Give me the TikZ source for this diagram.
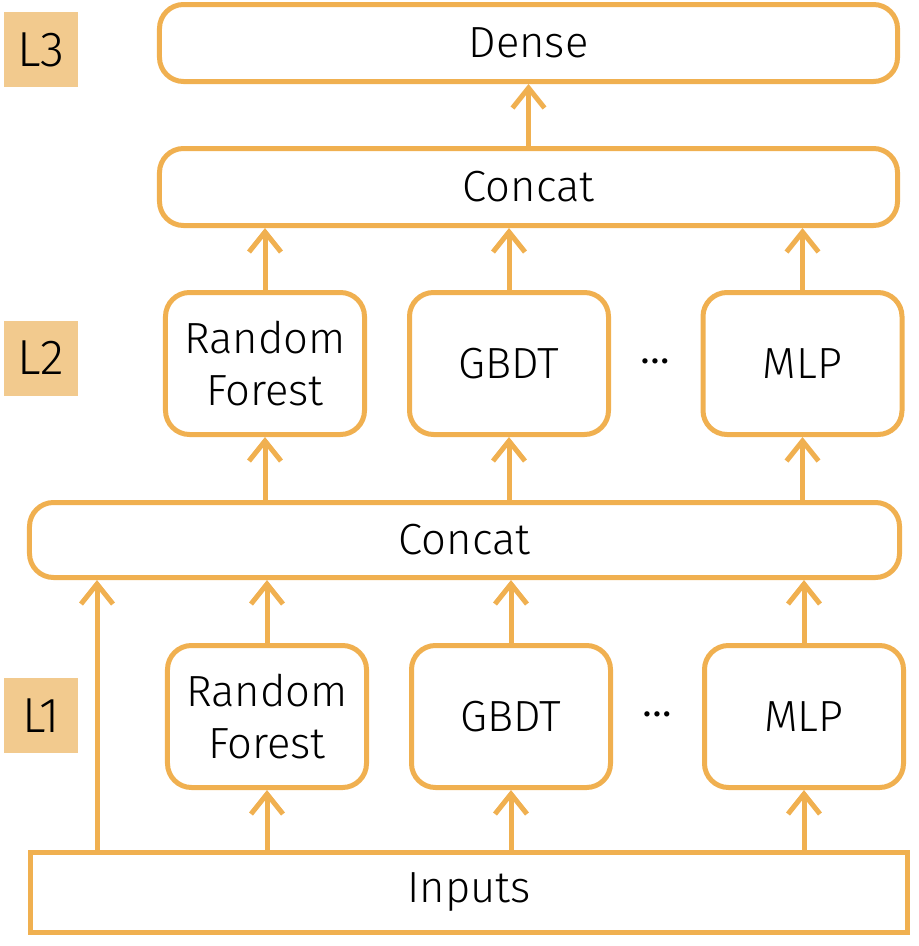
\documentclass[tikz,border=0pt]{standalone}
\usepackage{fontspec}
\setmainfont{Fira Sans}[UprightFont=* Light]
\usepackage{tikz}
\usetikzlibrary{arrows.meta, calc, positioning}

\definecolor{stackorange}{RGB}{240,176,80}
\definecolor{levelfill}{RGB}{242,202,142}

\newcommand{\moredots}{.\hspace{1.8pt}.\hspace{1.8pt}.}

\begin{document}
\begin{tikzpicture}[
  x=0.25mm, y=-0.25mm,
  every node/.style={font=\fontsize{31}{37}\selectfont, align=center, text=black},
  block/.style={rectangle, draw=stackorange, line width=1.25mm, rounded corners=6mm, inner sep=0pt},
  wide block/.style={block, minimum width=184.5mm, minimum height=19.25mm},
  model/.style={block, minimum width=49.75mm, minimum height=35.5mm},
  level tag/.style={rectangle, fill=levelfill, minimum width=18.5mm, minimum height=18.75mm, inner sep=0pt, font=\fontsize{35}{40}\selectfont},
  more dots/.style={font=\fontsize{22}{22}\selectfont\bfseries},
  feed/.style={draw=stackorange, line width=1.25mm, -{Straight Barb[length=5mm, width=8mm]}}
]
\useasboundingbox (0,0) rectangle (918,946);

% level tags
\node[level tag] (tagL3) at (41,49.5) {L3};
\node[level tag] (tagL2) at (41,358) {L2};
\node[level tag] (tagL1) at (41,715.5) {L1};

% level 3
\node[wide block] (dense) at (528.5,43) {Dense};
\node[wide block] (concatTop) at (528.5,187) {Concat};

% level 2
\node[model] (rfTwo) at (265,363.5) {Random\\Forest};
\node[model] (gbdtTwo) at (509,363.5) {GBDT};
\node[model] (mlpTwo) at (802.5,363.5) {MLP};
\node[more dots] (dotsTwo) at (655,361) {\moredots};

\node[block, minimum width=217.5mm, minimum height=18.75mm] (concatMid) at (464.5,540) {Concat};

% level 1
\node[model] (rfOne) at (267,716.5) {Random\\Forest};
\node[model] (gbdtOne) at (511,716.5) {GBDT};
\node[model] (mlpOne) at (804,716.5) {MLP};
\node[more dots] (dotsOne) at (657,714) {\moredots};

\node[block, rounded corners=0pt, minimum width=219.25mm, minimum height=20mm] (inputs) at (469,892.5) {Inputs};
\coordinate (skip) at (97,850);

% connectors
\draw[feed] (concatTop) -- (dense);
\foreach \m in {rfTwo, gbdtTwo, mlpTwo} {
  \draw[feed] (\m) -- (\m |- concatTop.south);
  \draw[feed] (\m |- concatMid.north) -- (\m);
}
\foreach \m in {rfOne, gbdtOne, mlpOne} {
  \draw[feed] (\m) -- (\m |- concatMid.south);
  \draw[feed] (\m |- inputs.north) -- (\m);
}
\draw[feed] (skip |- inputs.north) -- (skip |- concatMid.south);
\end{tikzpicture}
\end{document}
